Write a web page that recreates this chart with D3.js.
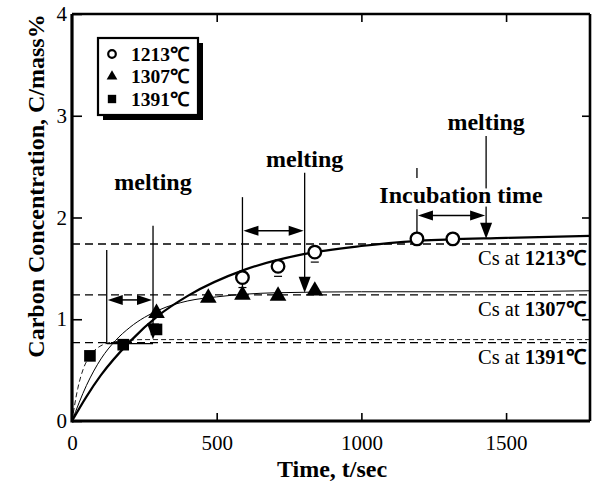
<!DOCTYPE html>
<html>
<head>
<meta charset="utf-8">
<script src="https://cdn.jsdelivr.net/npm/d3@7"></script>
<style>
  html, body { margin: 0; padding: 0; background: #fff; }
  svg { display: block; font-family: "Liberation Serif", "Times New Roman", serif; }
</style>
</head>
<body>
<div id="chart"></div>
<script>
// measured values (time in s, carbon in mass%)
const series = ["1213\u2103", "1307\u2103", "1391\u2103"];
const t1213 = [589, 712, 839, 1192, 1316];
const c1213 = [1.41, 1.52, 1.66, 1.79, 1.79];
const t1307 = [292, 471, 589, 712, 839];
const c1307 = [1.06, 1.21, 1.24, 1.23, 1.28];
const t1391 = [62, 177, 292];
const c1391 = [0.64, 0.75, 0.90];

// saturation levels Cs
const csValues = [1.74, 1.24, 0.77];

// fitted curves
const curveT1213 = [0, 50, 100, 200, 300, 400, 600, 800, 1000, 1200, 1500, 1790];
const curveC1213 = [0, 0.24, 0.45, 0.78, 1.04, 1.23, 1.49, 1.64, 1.72, 1.77, 1.80, 1.82];
const curveT1307 = [0, 50, 100, 150, 200, 300, 400, 500, 700, 1000, 1400, 1790];
const curveC1307 = [0, 0.35, 0.61, 0.79, 0.92, 1.09, 1.18, 1.22, 1.26, 1.27, 1.27, 1.28];
const curveT1391 = [0, 20, 40, 60, 100, 150, 250, 500, 1000, 1790];
const curveC1391 = [0, 0.32, 0.52, 0.63, 0.74, 0.78, 0.80, 0.80, 0.80, 0.80];

// incubation / melting annotations
const incStart = [120, 589, 1192];
const meltTime = [280, 804, 1431];
const incArrowC = [1.19, 1.87, 2.02];
const startTopC = [1.68, 2.20, 2.08];
const startBotC = [0.76, 1.24, 1.81];
const meltTopC = [1.92, 2.44, 2.80];
const meltTipC = [0.80, 1.26, 1.79];
const meltLabelC = [2.27, 2.50, 2.86];

const xTicks = [0, 500, 1000, 1500];
const yTicks = [0, 1, 2, 3, 4];

const W = 592, H = 484;
const x = d3.scaleLinear().domain([0, 1790]).range([72, 590]);
const y = d3.scaleLinear().domain([0, 4]).range([421, 14]);

const svg = d3.select("#chart").append("svg")
  .attr("width", W).attr("height", H)
  .attr("viewBox", `0 0 ${W} ${H}`);

const defs = svg.append("defs");
defs.append("clipPath").attr("id", "plot")
  .append("rect")
  .attr("x", x(0)).attr("y", y(4))
  .attr("width", x(1790) - x(0)).attr("height", y(0) - y(4));

const plot = svg.append("g").attr("clip-path", "url(#plot)");

// Cs dashed lines
plot.selectAll("line.cs")
  .data(csValues)
  .join("line")
  .attr("class", "cs")
  .attr("x1", x(0)).attr("x2", x(1790))
  .attr("y1", d => y(d)).attr("y2", d => y(d))
  .attr("stroke", "#000").attr("stroke-width", 1.4)
  .attr("stroke-dasharray", "8,5");

// fitted curves
const line = d3.line().x(d => x(d[0])).y(d => y(d[1])).curve(d3.curveMonotoneX);
const curves = [
  { t: curveT1213, c: curveC1213, w: 2.2, dash: null },
  { t: curveT1307, c: curveC1307, w: 1.0, dash: null },
  { t: curveT1391, c: curveC1391, w: 0.9, dash: "5,3" }
];
curves.forEach(cv => {
  plot.append("path")
    .attr("d", line(cv.t.map((t, i) => [t, cv.c[i]])))
    .attr("fill", "none")
    .attr("stroke", "#000")
    .attr("stroke-width", cv.w)
    .attr("stroke-dasharray", cv.dash);
});

// annotations
function arrowDown(g, px, pyTip) {
  g.append("path")
    .attr("d", `M${px - 6},${pyTip - 16} L${px + 6},${pyTip - 16} L${px},${pyTip} Z`)
    .attr("fill", "#000");
}
function arrowSide(g, px, py, dir) {
  g.append("path")
    .attr("d", `M${px},${py} L${px - dir * 15},${py - 5} L${px - dir * 15},${py + 5} Z`)
    .attr("fill", "#000");
}
const ann = svg.append("g");
incStart.forEach((ts, i) => {
  const xs = x(ts), xm = x(meltTime[i]);
  if (i === 2) {
    ann.append("line").attr("x1", xs).attr("x2", xs)
      .attr("y1", 168).attr("y2", 178)
      .attr("stroke", "#000").attr("stroke-width", 1.3);
  }
  ann.append("line").attr("x1", xs).attr("x2", xs)
    .attr("y1", y(startTopC[i])).attr("y2", y(startBotC[i]))
    .attr("stroke", "#000").attr("stroke-width", 1.3);
  ann.append("line").attr("x1", xm).attr("x2", xm)
    .attr("y1", y(meltTopC[i])).attr("y2", y(meltTipC[i]) - 12)
    .attr("stroke", "#000").attr("stroke-width", 1.3);
  arrowDown(ann, xm, y(meltTipC[i]));
  const ya = y(incArrowC[i]);
  ann.append("line").attr("x1", xs + 8).attr("x2", xm - 8)
    .attr("y1", ya).attr("y2", ya)
    .attr("stroke", "#000").attr("stroke-width", 1.5);
  arrowSide(ann, xs + 1, ya, -1);
  arrowSide(ann, xm - 1, ya, 1);
  ann.append("text")
    .attr("x", xm).attr("y", y(meltLabelC[i]))
    .attr("text-anchor", "middle")
    .attr("font-size", 24).attr("font-weight", "bold")
    .text("melting");
});
ann.append("line")
  .attr("x1", x(incStart[0])).attr("x2", x(meltTime[0]))
  .attr("y1", y(startBotC[0])).attr("y2", y(startBotC[0]))
  .attr("stroke", "#000").attr("stroke-width", 1.4);

ann.append("text")
  .attr("x", 461).attr("y", 203)
  .attr("text-anchor", "middle")
  .attr("font-size", 24).attr("font-weight", "bold")
  .attr("stroke", "#fff").attr("stroke-width", 7)
  .attr("paint-order", "stroke")
  .text("Incubation time");

// Cs labels
const csLabel = svg.append("g");
csValues.forEach((c, i) => {
  const t = csLabel.append("text")
    .attr("x", 478).attr("y", y(c) + 21)
    .attr("font-size", 20.5);
  t.append("tspan").text("Cs at ");
  t.append("tspan").attr("font-weight", "bold").text(series[i]);
});

// error bars (small)
const errT = [589, 712, 839];
const errC = [1.41, 1.52, 1.66];
plot.selectAll("line.err")
  .data(errT)
  .join("line")
  .attr("class", "err")
  .attr("x1", d => x(d) - 4).attr("x2", d => x(d) + 4)
  .attr("y1", (d, i) => y(errC[i]) + 10).attr("y2", (d, i) => y(errC[i]) + 10)
  .attr("stroke", "#000").attr("stroke-width", 1.2);

// data markers
const pts1213 = t1213.map((t, i) => [t, c1213[i]]);
const pts1307 = t1307.map((t, i) => [t, c1307[i]]);
const pts1391 = t1391.map((t, i) => [t, c1391[i]]);

svg.append("g").selectAll("circle")
  .data(pts1213).join("circle")
  .attr("cx", d => x(d[0])).attr("cy", d => y(d[1]))
  .attr("r", 6.3)
  .attr("fill", "#fff").attr("stroke", "#000").attr("stroke-width", 2.3);

svg.append("g").selectAll("path")
  .data(pts1307).join("path")
  .attr("transform", d => `translate(${x(d[0])},${y(d[1])})`)
  .attr("d", d3.symbol(d3.symbolTriangle, 120))
  .attr("fill", "#000");

svg.append("g").selectAll("path")
  .data(pts1391).join("path")
  .attr("transform", d => `translate(${x(d[0])},${y(d[1])})`)
  .attr("d", d3.symbol(d3.symbolSquare, 135))
  .attr("fill", "#000");

// axes
const fmt = d3.format("d");
const axG = svg.append("g");
const axBottom = axG.append("g")
  .attr("transform", `translate(0,${y(0)})`)
  .call(d3.axisBottom(x).tickValues(xTicks).tickFormat(fmt).tickSizeInner(-8).tickSizeOuter(0).tickPadding(14));
const axLeft = axG.append("g")
  .attr("transform", `translate(${x(0)},0)`)
  .call(d3.axisLeft(y).tickValues(yTicks).tickFormat(fmt).tickSizeInner(-10).tickSizeOuter(0).tickPadding(5));
const axTop = axG.append("g")
  .attr("transform", `translate(0,${y(4)})`)
  .call(d3.axisTop(x).tickValues(xTicks.slice(1)).tickSizeInner(-8).tickSizeOuter(0).tickFormat(""));
const axRight = axG.append("g")
  .attr("transform", `translate(${x(1790)},0)`)
  .call(d3.axisRight(y).tickValues(yTicks.slice(1, 4)).tickSizeInner(-8).tickSizeOuter(0).tickFormat(""));

[axBottom, axLeft, axTop, axRight].forEach(g => {
  g.selectAll("text").attr("font-family", "Liberation Serif, serif").attr("font-size", 21).attr("fill", "#000");
  g.selectAll(".tick line").attr("stroke", "#000").attr("stroke-width", 1.6);
  g.select(".domain").remove();
});

// frame
svg.append("line").attr("x1", x(0)).attr("x2", x(0)).attr("y1", y(4)).attr("y2", y(0) + 1.5)
  .attr("stroke", "#000").attr("stroke-width", 3.2);
svg.append("line").attr("x1", x(0)).attr("x2", x(1790)).attr("y1", y(0)).attr("y2", y(0))
  .attr("stroke", "#000").attr("stroke-width", 3.2);
svg.append("line").attr("x1", x(0)).attr("x2", x(1790)).attr("y1", y(4)).attr("y2", y(4))
  .attr("stroke", "#000").attr("stroke-width", 2.4);
svg.append("line").attr("x1", x(1790)).attr("x2", x(1790)).attr("y1", y(4)).attr("y2", y(0))
  .attr("stroke", "#000").attr("stroke-width", 2.6);

// axis titles
svg.append("text")
  .attr("x", 332).attr("y", 477)
  .attr("text-anchor", "middle")
  .attr("font-size", 24).attr("font-weight", "bold")
  .text("Time, t/sec");
svg.append("text")
  .attr("transform", "translate(44,186) rotate(-90)")
  .attr("text-anchor", "middle")
  .attr("font-size", 24).attr("font-weight", "bold")
  .text("Carbon Concentration, C/mass%");

// legend
const lg = svg.append("g").attr("transform", "translate(98,38)");
lg.append("rect").attr("x", 5).attr("y", 5).attr("width", 100).attr("height", 77).attr("fill", "#000");
lg.append("rect").attr("x", 0).attr("y", 0).attr("width", 100).attr("height", 77)
  .attr("fill", "#fff").attr("stroke", "#000").attr("stroke-width", 2.2);
const lgSym = [d3.symbolCircle, d3.symbolTriangle, d3.symbolSquare];
series.forEach((s, i) => {
  const row = lg.append("g").attr("transform", `translate(14,${16 + i * 22.5})`);
  if (i === 0) {
    row.append("circle").attr("r", 3.8).attr("fill", "#fff").attr("stroke", "#000").attr("stroke-width", 2.2);
  } else {
    row.append("path").attr("d", d3.symbol(lgSym[i], i === 1 ? 50 : 70)).attr("fill", "#000");
  }
  row.append("text").attr("x", 19).attr("y", 6.5)
    .attr("font-size", 19.5).attr("font-weight", "bold")
    .text(s);
});
</script>
</body>
</html>
